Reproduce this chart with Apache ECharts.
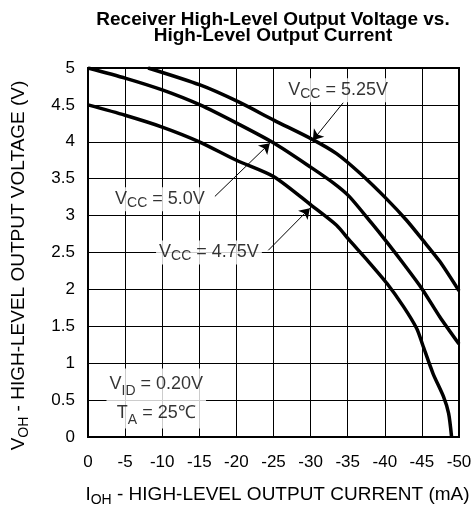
<!DOCTYPE html>
<html>
<head>
<meta charset="utf-8">
<script src="https://cdn.jsdelivr.net/npm/echarts@6/dist/echarts.min.js"></script>
<style>
    html, body { margin: 0; padding: 0; background: #fff; }
    #mychart { width: 474px; height: 508px; }
</style>
</head>
<body>
<div id="mychart"></div>
<script>
// curve data (I in mA, V in volts)
var vcc525X = [-8.1, -15.1, -20.3, -25.1, -30.1, -33.5, -36.7, -40.2, -42.9, -45.1, -47.4, -50];
var vcc525Y = [5.0, 4.77, 4.54, 4.29, 4.04, 3.84, 3.57, 3.23, 2.94, 2.67, 2.38, 1.98];
var vcc500X = [0, -5.1, -10.1, -15.1, -20.1, -25.1, -30.1, -33.1, -35.2, -38.2, -40.2, -42.5, -45.0, -47.4, -50];
var vcc500Y = [5.0, 4.86, 4.7, 4.5, 4.25, 3.98, 3.65, 3.44, 3.26, 2.9, 2.65, 2.35, 2.01, 1.63, 1.26];
var vcc475X = [0, -5, -10, -15, -20, -25, -30.1, -33.5, -35.2, -37.6, -40.3, -42.5, -44.3, -45.1, -46.5, -47.9, -48.6, -49.0];
var vcc475Y = [4.5, 4.36, 4.2, 4.0, 3.75, 3.53, 3.14, 2.87, 2.67, 2.4, 2.08, 1.77, 1.47, 1.25, 0.86, 0.55, 0.32, 0.0];

// annotation texts and their anchor points
var labelNames = ['5.25V', '5.0V', '4.75V'];
var labelPos = [[-33.7, 4.7], [-9.7, 3.22], [-16.3, 2.5]];
var arrowFrom = [[-34.4, 4.53], [-17.1, 3.26], [-24.3, 2.53]];
var arrowTo = [[-30.3, 4.02], [-24.5, 3.98], [-29.9, 3.10]];
var condPos = [-9.2, 0.52];

function pairs(xs, ys) {
    var arr = [];
    for (var i = 0; i < xs.length; i++) {
        arr.push([xs[i], ys[i]]);
    }
    return arr;
}

var font = "'Liberation Sans', Arial, sans-serif";
// subscripts: bottom aligned inside a taller line
var rich = {
    m: { fontSize: 18, fontFamily: font, color: '#000', lineHeight: 22 },
    s: { fontSize: 14, fontFamily: font, color: '#000', lineHeight: 13, verticalAlign: 'bottom' },
    m2: { fontSize: 18, fontFamily: font, color: '#000', lineHeight: 29 },
    s2: { fontSize: 14, fontFamily: font, color: '#000', lineHeight: 20, verticalAlign: 'bottom' }
};
var nameRich = {
    m: { fontSize: 19, fontFamily: font, color: '#000', lineHeight: 24 },
    s: { fontSize: 14, fontFamily: font, color: '#000', lineHeight: 14, verticalAlign: 'bottom' }
};

var curveStyle = { color: '#000', width: 3.5 };
var myChart = echarts.init(document.getElementById('mychart'));

var annData = [];
for (var i = 0; i < labelNames.length; i++) {
    annData.push({ value: labelPos[i], name: labelNames[i] });
}
annData.push({ value: condPos, name: 'cond' });

var arrows = [];
for (var j = 0; j < arrowFrom.length; j++) {
    arrows.push([{ coord: arrowFrom[j] }, { coord: arrowTo[j] }]);
}

function curve(name, xs, ys) {
    return {
        name: name,
        type: 'line',
        smooth: 0.25,
        showSymbol: false,
        lineStyle: curveStyle,
        data: pairs(xs, ys)
    };
}

option = {
    animation: false,
    backgroundColor: '#fff',
    title: {
        text: 'Receiver High-Level Output Voltage vs.\nHigh-Level Output Current',
        left: 268,
        top: 7,
        textAlign: 'center',
        textStyle: {
            fontFamily: font,
            fontSize: 19,
            fontWeight: 'bold',
            lineHeight: 16,
            color: '#000'
        }
    },
    grid: {
        left: 88,
        right: 15,
        top: 68,
        bottom: 71,
        outerBoundsMode: 'none',
        show: true,
        borderColor: '#000',
        borderWidth: 2,
        backgroundColor: '#fff'
    },
    xAxis: {
        type: 'value',
        min: -50,
        max: 0,
        interval: 5,
        inverse: true,
        axisLine: { show: false },
        axisTick: { show: false },
        splitLine: { lineStyle: { color: '#000', width: 1 } },
        axisLabel: { fontFamily: font, fontSize: 17, color: '#000', margin: 17 },
        name: '{m|I}{s|OH}{m| - HIGH-LEVEL OUTPUT CURRENT (mA)}',
        nameLocation: 'middle',
        nameGap: 46,
        nameTextStyle: { rich: nameRich, padding: [0, 0, 0, 8] }
    },
    yAxis: {
        type: 'value',
        min: 0,
        max: 5,
        interval: 0.5,
        axisLine: { show: false },
        axisTick: { show: false },
        splitLine: { lineStyle: { color: '#000', width: 1 } },
        axisLabel: { fontFamily: font, fontSize: 17, color: '#000', margin: 13 },
        name: '{m|V}{s|OH}{m| - HIGH-LEVEL OUTPUT VOLTAGE (V)}',
        nameLocation: 'middle',
        nameGap: 57,
        nameTextStyle: { rich: nameRich, padding: [0, 26, 0, 0] }
    },
    series: [
        curve('VCC = 5.25V', vcc525X, vcc525Y),
        curve('VCC = 5.0V', vcc500X, vcc500Y),
        curve('VCC = 4.75V', vcc475X, vcc475Y),
        {
            // text boxes and arrows
            type: 'scatter',
            symbolSize: 0,
            silent: true,
            z: 5,
            data: annData,
            label: {
                show: true,
                position: 'inside',
                backgroundColor: '#fff',
                padding: [1, 3, 1, 3],
                formatter: function (p) {
                    if (p.name == 'cond') {
                        return '{m2|V}{s2|ID}{m2| = 0.20V}\n{m2|T}{s2|A}{m2| = 25\u2103}';
                    }
                    return '{m|V}{s|CC}{m| = ' + p.name + '}';
                },
                rich: rich
            },
            markLine: {
                silent: true,
                symbol: ['none', 'arrow'],
                symbolSize: 10,
                label: { show: false },
                lineStyle: { color: '#000', width: 1, type: 'solid' },
                data: arrows
            }
        }
    ]
};
myChart.setOption(option);
</script>
</body>
</html>
